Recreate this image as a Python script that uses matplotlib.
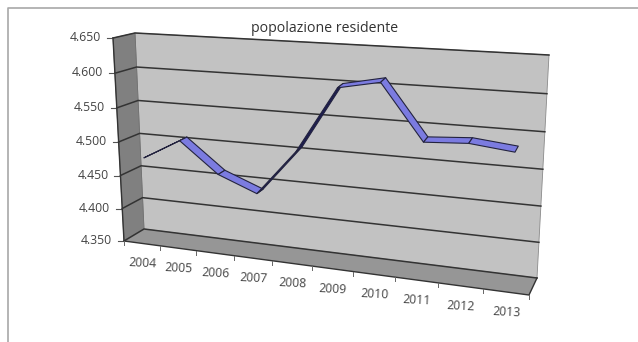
import matplotlib
matplotlib.use('Agg')
import matplotlib.pyplot as plt
from matplotlib.patches import Polygon
import numpy as np

plt.rcParams['font.family'] = ['Open Sans', 'DejaVu Sans']

years = ['2004', '2005', '2006', '2007', '2008', '2009', '2010', '2011', '2012', '2013']
popolazione = [4475, 4506, 4462, 4440, 4507, 4601, 4613, 4537, 4541, 4535]
value_ticks = [4350, 4400, 4450, 4500, 4550, 4600, 4650]
value_labels = ['4.350', '4.400', '4.450', '4.500', '4.550', '4.600', '4.650']
title = 'popolazione residente'

VMIN, VMAX = 4350, 4650

# box corners in figure pixels: front/back, left/right, bottom/top
FLB, FRB = np.array([124., 241.]), np.array([529., 295.])
BLB, BRB = np.array([144., 229.]), np.array([537., 278.])
FLT, FRT = np.array([113., 38.]), np.array([541., 71.])
BLT, BRT = np.array([135., 33.]), np.array([549., 55.])

# foreshortening along the category and value axes
K_X = 1.155
K_V = 1.05
RIBBON_NEAR, RIBBON_FAR = 0.31, 0.69


def project(cat, value, depth):
    """cat in category slots (0..10), value in data units, depth 0 front .. 1 back"""
    t = cat / 10
    v = (value - VMIN) / (VMAX - VMIN)
    s = t / (t + K_X * (1 - t))
    r = v / (v + K_V * (1 - v))
    bottom_f = FLB + (FRB - FLB) * s
    bottom_b = BLB + (BRB - BLB) * s
    top_f = FLT + (FRT - FLT) * s
    top_b = BLT + (BRT - BLT) * s
    front = bottom_f + (top_f - bottom_f) * r
    back = bottom_b + (top_b - bottom_b) * r
    return front + (back - front) * depth


fig = plt.figure(figsize=(6.38, 3.42), dpi=100)
ax = fig.add_axes([0, 0, 1, 1])
ax.set_xlim(0, 638)
ax.set_ylim(342, 0)
ax.axis('off')

# chart frame
ax.plot([7.5, 7.5, 638], [342, 8, 8], color='#a8a8a8', lw=1.2)

# walls and floor
ax.add_patch(Polygon([BLB, BRB, BRT, BLT], fc='#c2c2c2', ec='#8a8a8a', lw=0.6))
ax.add_patch(Polygon([FLB, BLB, BLT, FLT], fc='#808080', ec='#707070', lw=0.6))
ax.add_patch(Polygon([FLB, FRB, BRB, BLB], fc='#969696', ec='none'))

# gridlines along the back and side walls
for val, label in zip(value_ticks, value_labels):
    p_f = project(0, val, 0)
    p_b = project(0, val, 1)
    p_r = project(10, val, 1)
    ax.plot([p_f[0], p_b[0], p_r[0]], [p_f[1], p_b[1], p_r[1]], color='#333333', lw=1.1, solid_joinstyle='round')
    ax.plot([p_f[0] - 6, p_f[0]], [p_f[1], p_f[1]], color='#555555', lw=0.8)
    ax.text(p_f[0] - 12, p_f[1] - 0.5, label, ha='right', va='center', fontsize=8.8, color='#444444')

# axis edges
ax.plot([FLT[0], FLB[0], FRB[0], BRB[0]], [FLT[1], FLB[1], FRB[1], BRB[1]], color='#333333', lw=1.0)

# category ticks and labels
for i in range(len(years) + 1):
    p = project(i, VMIN, 0)
    ax.plot([p[0], p[0]], [p[1], p[1] + 4], color='#666666', lw=0.7)
for i, year in enumerate(years):
    p = project(i + 0.5, VMIN, 0)
    ax.text(p[0] + 0.5, p[1] + 20, year, ha='center', va='center', fontsize=8.8, color='#444444',
            rotation=-3, rotation_mode='anchor')

# ribbon: one quad per segment, the underside shows on the steep rising stretches
for i in range(len(years) - 1):
    a_near = project(i + 0.5, popolazione[i], RIBBON_NEAR)
    a_far = project(i + 0.5, popolazione[i], RIBBON_FAR)
    b_near = project(i + 1.5, popolazione[i + 1], RIBBON_NEAR)
    b_far = project(i + 1.5, popolazione[i + 1], RIBBON_FAR)
    rising = popolazione[i + 1] - popolazione[i] >= 20
    color = '#1c1c50' if rising else '#7b7be0'
    ax.add_patch(Polygon([a_near, b_near, b_far, a_far], fc=color, ec='#23233f', lw=0.8, joinstyle='round', zorder=5))

ax.text(325, 28, title, ha='center', va='center', fontsize=10.2, color='#333333')

fig.savefig('out.png', dpi=100)
